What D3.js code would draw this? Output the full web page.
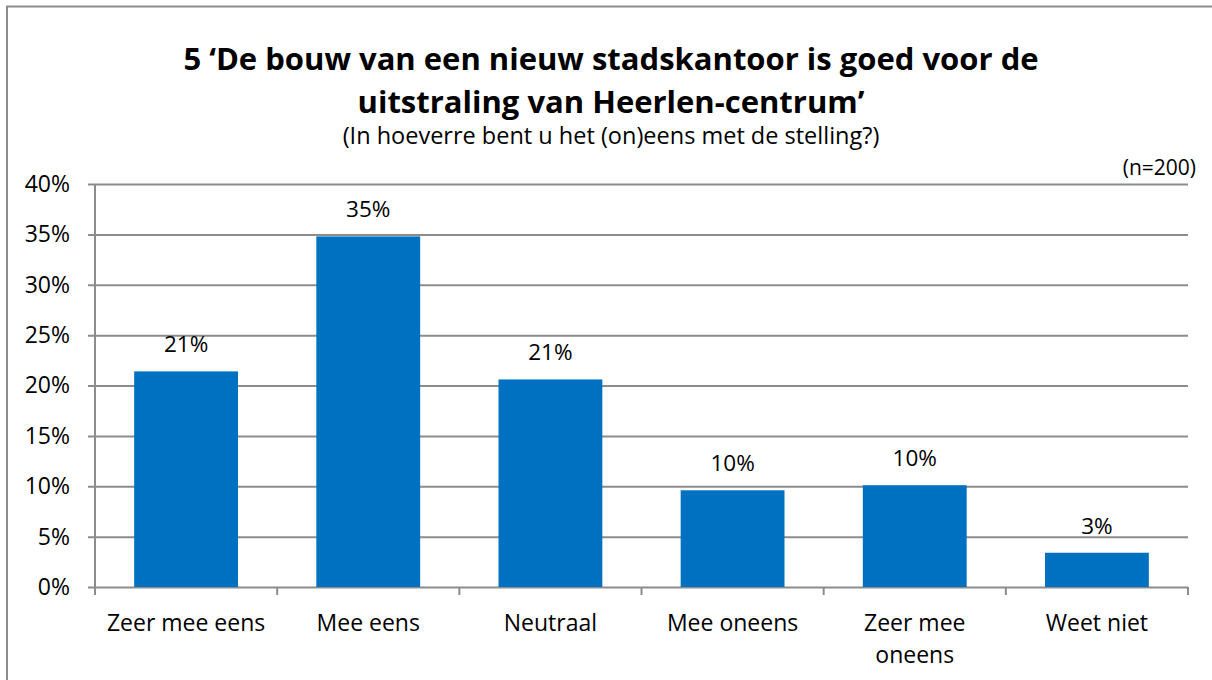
<!DOCTYPE html>
<html>
<head>
<meta charset="utf-8">
<script src="https://cdn.jsdelivr.net/npm/d3@7"></script>
<style>
  body { margin: 0; background: #fff; }
  svg text { font-family: "Open Sans", sans-serif; fill: #000; }
</style>
</head>
<body>
<div id="viz"></div>
<script>
const categories = [["Zeer mee eens"], ["Mee eens"], ["Neutraal"], ["Mee oneens"], ["Zeer mee", "oneens"], ["Weet niet"]];
const values = [21.4, 34.8, 20.6, 9.6, 10.1, 3.4];
const valueLabels = ["21%", "35%", "21%", "10%", "10%", "3%"];
const yTicks = [0, 5, 10, 15, 20, 25, 30, 35, 40];
const titleLines = ["5 \u2018De bouw van een nieuw stadskantoor is goed voor de", "uitstraling van Heerlen-centrum\u2019"];
const subtitle = "(In hoeverre bent u het (on)eens met de stelling?)";
const sampleNote = "(n=200)";

const width = 1212;
const height = 680;
const margin = { top: 184, right: 24, bottom: 93, left: 95 };

const svg = d3.select('#viz').append('svg')
    .attr('width', width)
    .attr('height', height);

// outer chart border
svg.append('rect')
    .attr('x', 7).attr('y', 6.5)
    .attr('width', width).attr('height', height)
    .attr('fill', 'none')
    .attr('stroke', '#8c8c8c')
    .attr('stroke-width', 2);

const x = d3.scaleBand()
    .domain(d3.range(categories.length))
    .range([margin.left, width - margin.right])
    .paddingInner(0.43)
    .paddingOuter(0.215);

const y = d3.scaleLinear()
    .domain([0, 40])
    .range([height - margin.bottom, margin.top]);

// gridlines + y ticks
svg.append('g')
    .attr('transform', `translate(${margin.left},0)`)
    .call(d3.axisLeft(y).tickValues(yTicks).tickSize(-(width - margin.right - margin.left)).tickSizeOuter(0).tickFormat(d => d + '%'))
    .call(g => g.select('.domain').remove())
    .call(g => g.selectAll('.tick line').attr('x1', -7).attr('stroke', '#8c8c8c').attr('stroke-width', 2))
    .call(g => g.selectAll('.tick text').attr('x', -25).attr('font-size', 23).style('font-family', '"Open Sans", sans-serif').attr('fill', '#000'));

// y axis line
svg.append('line')
    .attr('x1', margin.left).attr('x2', margin.left)
    .attr('y1', y(40)).attr('y2', y(0) + 8)
    .attr('stroke', '#8c8c8c').attr('stroke-width', 2);

// category ticks at band edges
const step = x.step();
const edges = d3.range(categories.length + 1).map(i => margin.left + i * step);
svg.append('g').selectAll('line')
    .data(edges)
    .enter()
    .append('line')
    .attr('x1', d => d).attr('x2', d => d)
    .attr('y1', y(0)).attr('y2', y(0) + 8)
    .attr('stroke', '#8c8c8c').attr('stroke-width', 2);

// bars
svg.append('g').selectAll('rect')
    .data(values)
    .enter()
    .append('rect')
    .attr('x', (d, i) => x(i))
    .attr('y', d => y(d))
    .attr('width', x.bandwidth())
    .attr('height', d => y(0) - y(d))
    .attr('fill', '#0070c0');

// value labels
svg.append('g').selectAll('text')
    .data(values)
    .enter()
    .append('text')
    .attr('x', (d, i) => x(i) + x.bandwidth() / 2)
    .attr('y', d => y(d) - 19)
    .attr('text-anchor', 'middle')
    .attr('font-size', 22.5)
    .text((d, i) => valueLabels[i]);

// category labels
const catText = svg.append('g').selectAll('text')
    .data(categories)
    .enter()
    .append('text')
    .attr('text-anchor', 'middle')
    .attr('font-size', 23)
    .attr('x', (d, i) => x(i) + x.bandwidth() / 2)
    .attr('y', y(0) + 44);
catText.selectAll('tspan')
    .data(d => d)
    .enter()
    .append('tspan')
    .attr('x', function () { return d3.select(this.parentNode).attr('x'); })
    .attr('dy', (d, i) => i === 0 ? 0 : 32)
    .text(d => d);

// titles
svg.append('g').selectAll('text')
    .data(titleLines)
    .enter()
    .append('text')
    .attr('x', 611)
    .attr('y', (d, i) => 70 + i * 43)
    .attr('text-anchor', 'middle')
    .attr('font-size', 31)
    .attr('font-weight', 'bold')
    .text(d => d);

svg.append('text')
    .attr('x', 611).attr('y', 144)
    .attr('text-anchor', 'middle')
    .attr('font-size', 23.5)
    .text(subtitle);

svg.append('text')
    .attr('x', 1196).attr('y', 175)
    .attr('text-anchor', 'end')
    .attr('font-size', 21)
    .text(sampleNote);
</script>
</body>
</html>
